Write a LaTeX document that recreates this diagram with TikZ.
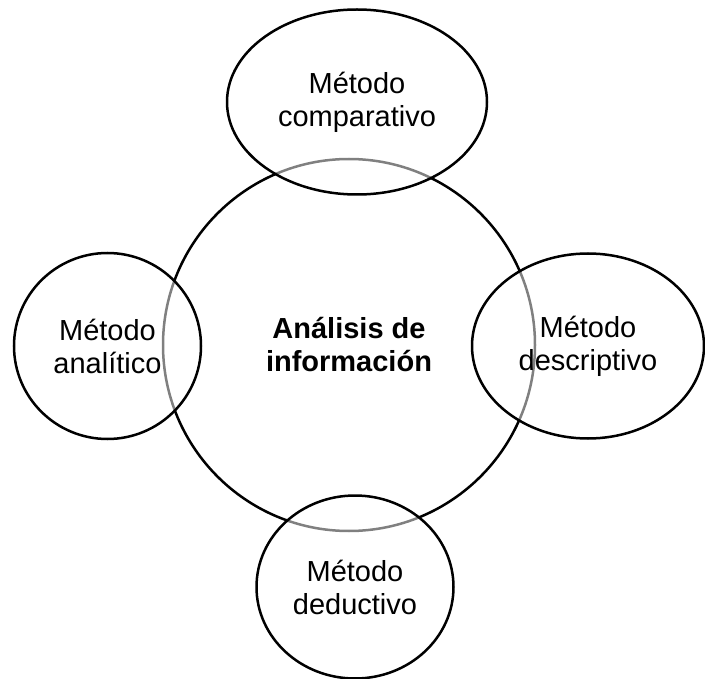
\documentclass[tikz,border=0pt]{standalone}
\usepackage{fontspec}
\setmainfont{Liberation Sans}
\usetikzlibrary{shapes.geometric}
\begin{document}
\begin{tikzpicture}[
	x=1pt, y=-1pt,
	every node/.style={font=\fontsize{29}{33}\selectfont, align=center},
	mainnode/.style={shape=circle, draw=black, line width=2.5pt, minimum size=372pt, inner sep=0pt},
	satnode/.style={shape=ellipse, draw=black, line width=2.5pt, fill=white, fill opacity=0.5, draw opacity=1, text opacity=1, inner sep=0pt},
]
\useasboundingbox (0,0) rectangle (705,679);
\node[mainnode] (info) at (349,345) {\bfseries Análisis de\\ \bfseries información};
\node[satnode, minimum width=260pt, minimum height=185pt] (comp) at (357,102) {Método\\comparativo};
\node[satnode, minimum width=187pt, minimum height=186pt] (anal) at (107.5,346) {Método\\analítico};
\node[satnode, minimum width=232pt, minimum height=185pt] (desc) at (588,346) {Método\\descriptivo};
\node[satnode, minimum width=197pt, minimum height=183pt] (dedu) at (355,587) {Método\\deductivo};
\end{tikzpicture}
\end{document}
